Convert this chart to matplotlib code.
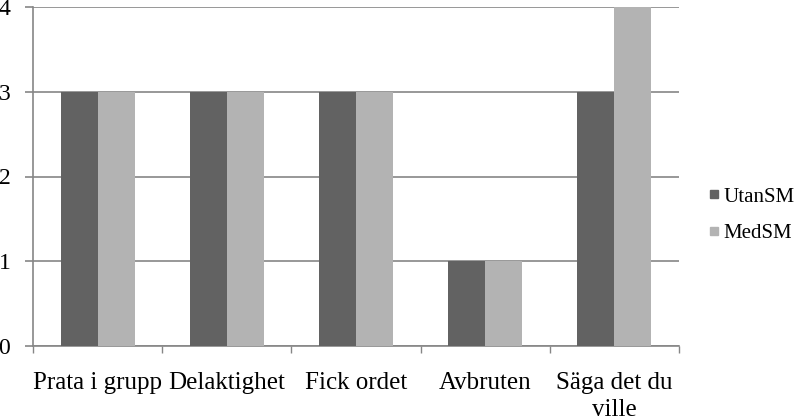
import matplotlib
matplotlib.use("Agg")
import matplotlib.pyplot as plt
import numpy as np
from matplotlib.lines import Line2D

categories = ["Prata i grupp", "Delaktighet", "Fick ordet", "Avbruten", "Säga det du\nville"]
utan_sm = [3, 3, 3, 1, 3]
med_sm = [3, 3, 3, 1, 4]
series_names = ["UtanSM", "MedSM"]
yticks = [0, 1, 2, 3, 4]

dark = "#626262"
light = "#b3b3b3"
grid = "#868686"

plt.rcParams['font.family'] = ['Liberation Serif', 'DejaVu Serif']

fig = plt.figure(figsize=(7.99, 4.18), dpi=100)
ax = fig.add_axes([33/799, (418-346)/418, 646/799, 339/418])

x = np.arange(len(categories))
w = 0.286
ax.bar(x - w/2, utan_sm, width=w, color=dark, zorder=3)
ax.bar(x + w/2, med_sm, width=w, color=light, zorder=3)

ax.set_xlim(-0.5, len(categories) - 0.5)
ax.set_ylim(0, 4)
ax.set_yticks(yticks)
ax.set_yticklabels([str(v) for v in yticks])
ax.yaxis.grid(True, color=grid, linewidth=1.2, zorder=0)
ax.set_axisbelow(True)

ax.set_xticks(x)
ax.set_xticklabels(categories, linespacing=1.32, va='top')
ax.set_xticks(np.arange(-0.5, len(categories)), minor=True)
ax.tick_params(axis='x', which='major', length=0, pad=18.5, labelsize=18)
ax.tick_params(axis='x', which='minor', length=5, color=grid, width=1)
ax.tick_params(axis='y', length=5.8, color=grid, width=1.2, pad=10.5, labelsize=17)

for s in ['top', 'right']:
    ax.spines[s].set_visible(False)
for s in ['left', 'bottom']:
    ax.spines[s].set_color(grid)
    ax.spines[s].set_linewidth(1.2)

handles = [Line2D([], [], marker='s', linestyle='none', markersize=6, color=c)
           for c in (dark, light)]
fig.legend(handles, series_names, loc='center left', bbox_to_anchor=(705/799, 1 - 215/418),
           frameon=False, fontsize=15, handlelength=0.9, handletextpad=0.0,
           labelspacing=0.8, borderaxespad=0, borderpad=0)

fig.savefig("out.png", dpi=100)
